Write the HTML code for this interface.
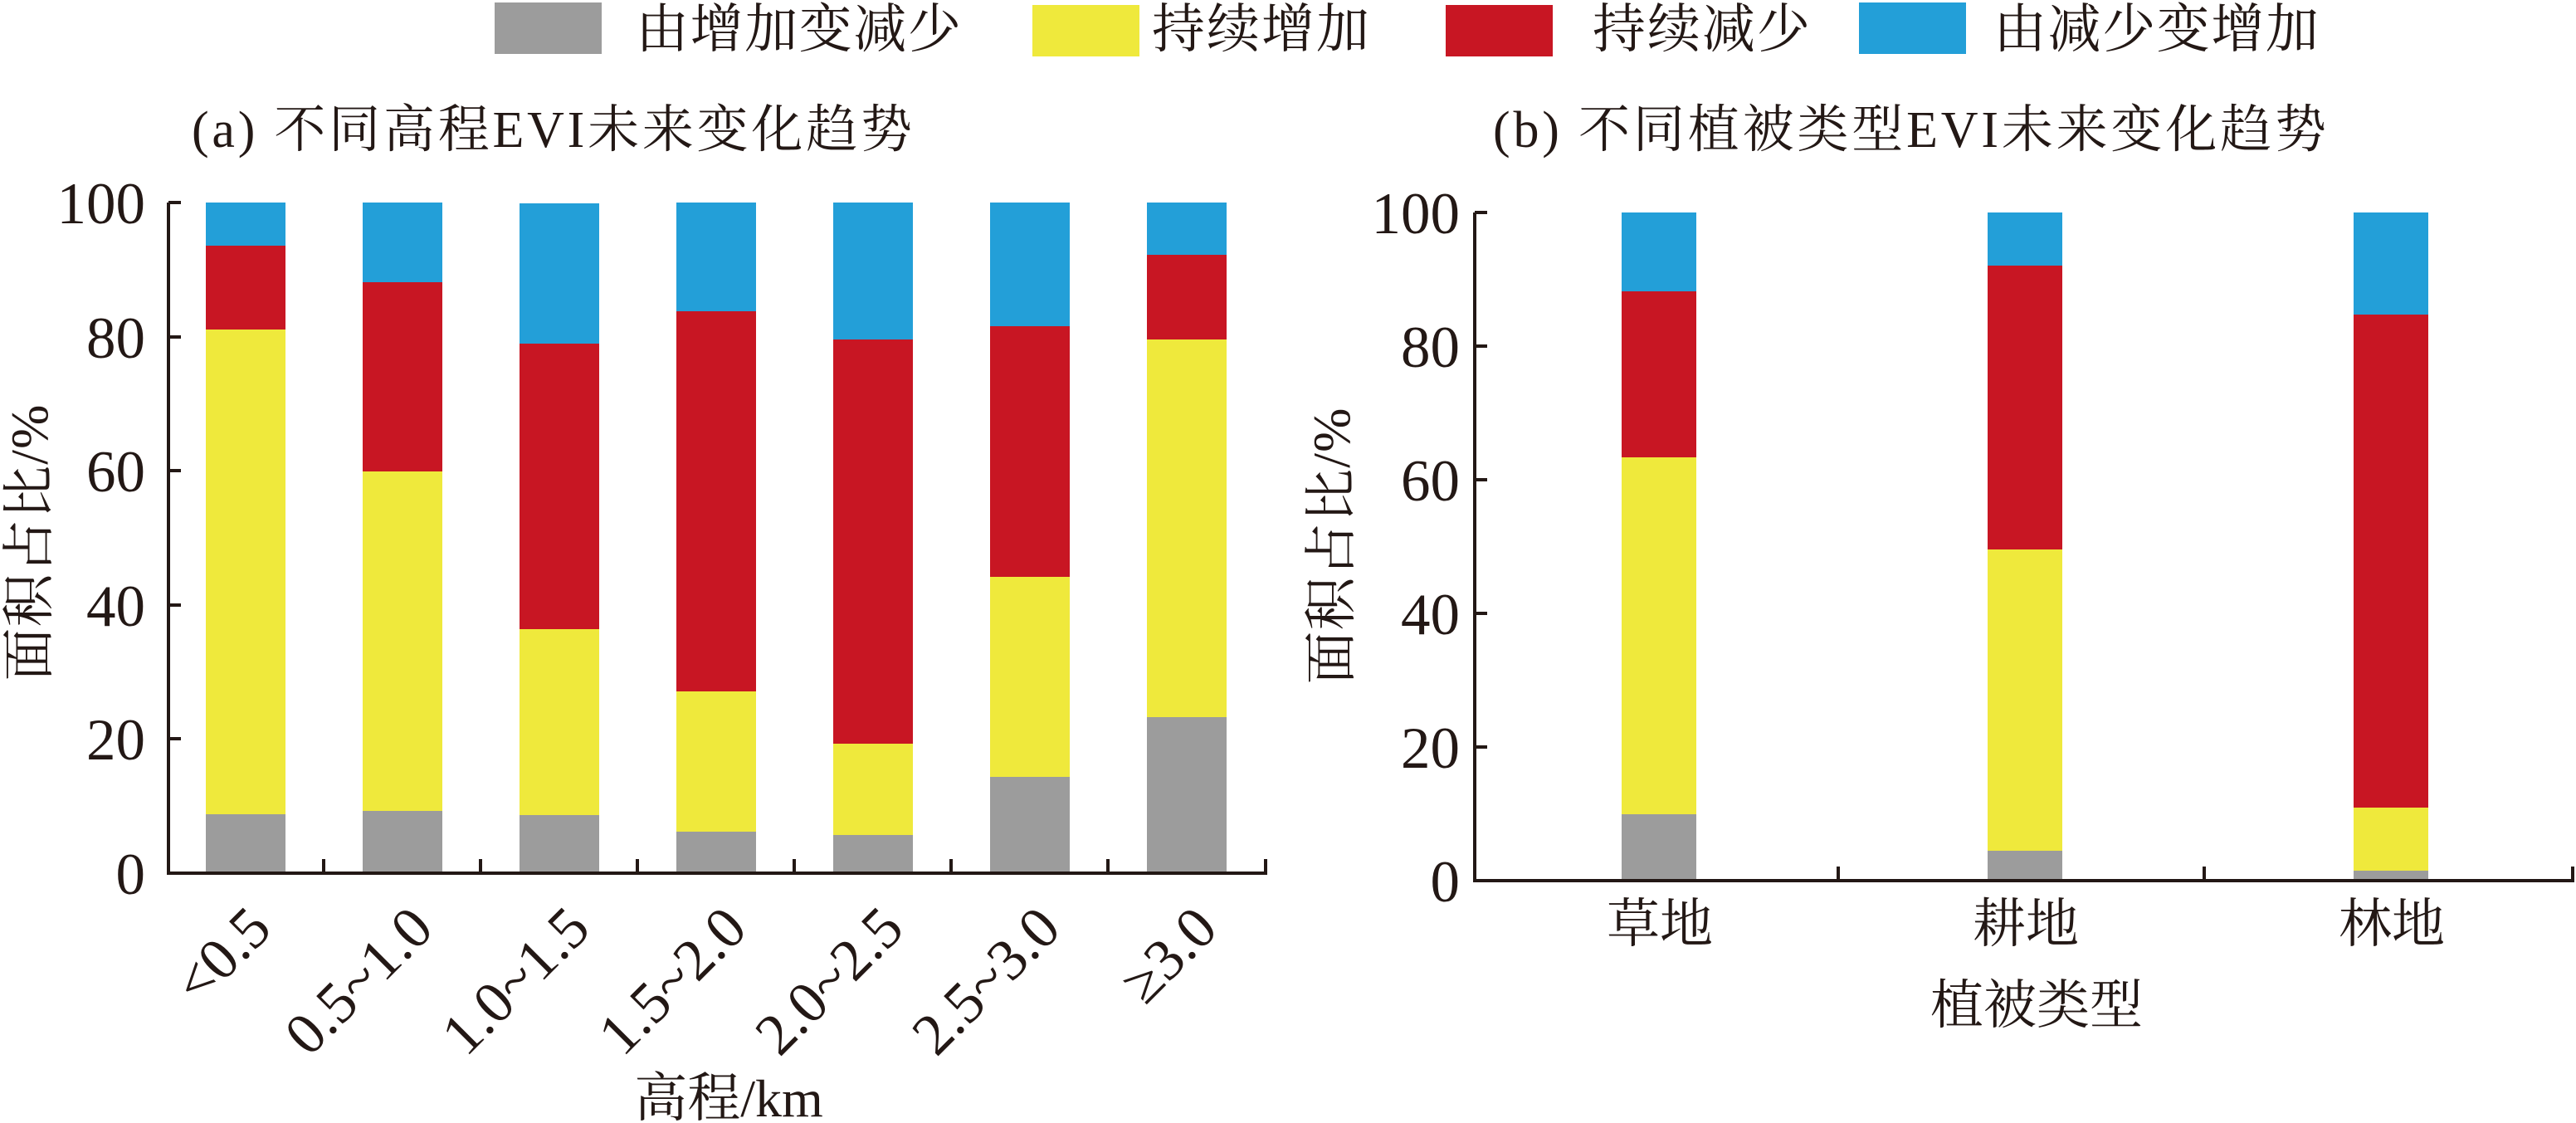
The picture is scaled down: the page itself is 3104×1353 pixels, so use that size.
<!DOCTYPE html>
<html><head><meta charset="utf-8"><style>
html,body{margin:0;padding:0;background:#fff;}
svg{display:block;}
text{fill:#231815;}
.n{font-family:"Liberation Serif","Noto Serif CJK SC",serif;font-size:71px;}
.c{font-family:"Liberation Serif","Noto Serif CJK SC",serif;}
</style></head><body>
<svg width="3104" height="1353" viewBox="0 0 3104 1353" xmlns="http://www.w3.org/2000/svg">
<!-- legend -->
<rect x="596" y="3" width="129" height="62" fill="#9c9c9c"/>
<text class="c" x="766" y="57" font-size="64" textLength="392">由增加变减少</text>
<rect x="1244" y="6" width="129" height="62" fill="#efe93c"/>
<text class="c" x="1388" y="57" font-size="64" textLength="262">持续增加</text>
<rect x="1742" y="6" width="129" height="62" fill="#c81623"/>
<text class="c" x="1919" y="57" font-size="64" textLength="262">持续减少</text>
<rect x="2240" y="3" width="129" height="62" fill="#239fd8"/>
<text class="c" x="2402" y="57" font-size="64" textLength="392">由减少变增加</text>

<!-- titles -->
<text class="c" x="231" y="177" font-size="62" textLength="868">(a) 不同高程EVI未来变化趋势</text>
<text class="c" x="1799" y="177" font-size="62" textLength="1004">(b) 不同植被类型EVI未来变化趋势</text>

<!-- LEFT CHART bars: y(v)=1052-8.08v -->
<g>
<rect x="248" y="981" width="96" height="71" fill="#9c9c9c"/><rect x="248" y="397" width="96" height="584" fill="#efe93c"/><rect x="248" y="296" width="96" height="101" fill="#c81623"/><rect x="248" y="244" width="96" height="52" fill="#239fd8"/>
<rect x="437" y="977" width="96" height="75" fill="#9c9c9c"/><rect x="437" y="568" width="96" height="409" fill="#efe93c"/><rect x="437" y="340" width="96" height="228" fill="#c81623"/><rect x="437" y="244" width="96" height="96" fill="#239fd8"/>
<rect x="626" y="982" width="96" height="70" fill="#9c9c9c"/><rect x="626" y="758" width="96" height="224" fill="#efe93c"/><rect x="626" y="414" width="96" height="344" fill="#c81623"/><rect x="626" y="245" width="96" height="169" fill="#239fd8"/>
<rect x="815" y="1002" width="96" height="50" fill="#9c9c9c"/><rect x="815" y="833" width="96" height="169" fill="#efe93c"/><rect x="815" y="375" width="96" height="458" fill="#c81623"/><rect x="815" y="244" width="96" height="131" fill="#239fd8"/>
<rect x="1004" y="1006" width="96" height="46" fill="#9c9c9c"/><rect x="1004" y="896" width="96" height="110" fill="#efe93c"/><rect x="1004" y="409" width="96" height="487" fill="#c81623"/><rect x="1004" y="244" width="96" height="165" fill="#239fd8"/>
<rect x="1193" y="936" width="96" height="116" fill="#9c9c9c"/><rect x="1193" y="695" width="96" height="241" fill="#efe93c"/><rect x="1193" y="393" width="96" height="302" fill="#c81623"/><rect x="1193" y="244" width="96" height="149" fill="#239fd8"/>
<rect x="1382" y="864" width="96" height="188" fill="#9c9c9c"/><rect x="1382" y="409" width="96" height="455" fill="#efe93c"/><rect x="1382" y="307" width="96" height="102" fill="#c81623"/><rect x="1382" y="244" width="96" height="63" fill="#239fd8"/>
</g>
<g stroke="#231815" stroke-width="4" fill="none">
<path d="M203 244 V1052 H1525 V1035"/>
<path d="M203 244 H218 M203 406 H218 M203 567 H218 M203 729 H218 M203 890 H218"/>
<path d="M390 1052 V1035 M579 1052 V1035 M768 1052 V1035 M957 1052 V1035 M1146 1052 V1035 M1335 1052 V1035"/>
</g>
<g class="n" text-anchor="end">
<text x="175" y="269">100</text><text x="175" y="431">80</text><text x="175" y="592">60</text><text x="175" y="754">40</text><text x="175" y="915">20</text><text x="175" y="1077">0</text>
</g>
<g class="n" text-anchor="end">
<text transform="translate(330,1122) rotate(-45)">&lt;0.5</text>
<text transform="translate(525,1122) rotate(-45)">0.5~1.0</text>
<text transform="translate(714,1122) rotate(-45)">1.0~1.5</text>
<text transform="translate(903,1122) rotate(-45)">1.5~2.0</text>
<text transform="translate(1092,1122) rotate(-45)">2.0~2.5</text>
<text transform="translate(1281,1122) rotate(-45)">2.5~3.0</text>
<text transform="translate(1470,1122) rotate(-45)">≥3.0</text>
</g>
<text class="c" x="878" y="1345" font-size="64" text-anchor="middle">高程/km</text>
<text class="c" transform="translate(57,654) rotate(-90)" font-size="64" text-anchor="middle" textLength="333">面积占比/%</text>

<!-- RIGHT CHART: y(v)=1061-8.05v -->
<g>
<rect x="1954" y="981" width="90" height="80" fill="#9c9c9c"/><rect x="1954" y="551" width="90" height="430" fill="#efe93c"/><rect x="1954" y="351" width="90" height="200" fill="#c81623"/><rect x="1954" y="256" width="90" height="95" fill="#239fd8"/>
<rect x="2395" y="1025" width="90" height="36" fill="#9c9c9c"/><rect x="2395" y="662" width="90" height="363" fill="#efe93c"/><rect x="2395" y="320" width="90" height="342" fill="#c81623"/><rect x="2395" y="256" width="90" height="64" fill="#239fd8"/>
<rect x="2836" y="1049" width="90" height="12" fill="#9c9c9c"/><rect x="2836" y="973" width="90" height="76" fill="#efe93c"/><rect x="2836" y="379" width="90" height="594" fill="#c81623"/><rect x="2836" y="256" width="90" height="123" fill="#239fd8"/>
</g>
<g stroke="#231815" stroke-width="4" fill="none">
<path d="M1777 256 V1061 H3100 V1044"/>
<path d="M1777 256 H1792 M1777 417 H1792 M1777 578 H1792 M1777 739 H1792 M1777 900 H1792"/>
<path d="M2215 1061 V1044 M2656 1061 V1044"/>
</g>
<g class="n" text-anchor="end">
<text x="1759" y="281">100</text><text x="1759" y="442">80</text><text x="1759" y="603">60</text><text x="1759" y="764">40</text><text x="1759" y="925">20</text><text x="1759" y="1086">0</text>
</g>
<g class="c" font-size="64" text-anchor="middle">
<text x="2000" y="1135">草地</text>
<text x="2441" y="1135">耕地</text>
<text x="2882" y="1135">林地</text>
<text x="2454" y="1233">植被类型</text>
</g>
<text class="c" transform="translate(1626,658) rotate(-90)" font-size="64" text-anchor="middle" textLength="333">面积占比/%</text>
</svg>
</body></html>
